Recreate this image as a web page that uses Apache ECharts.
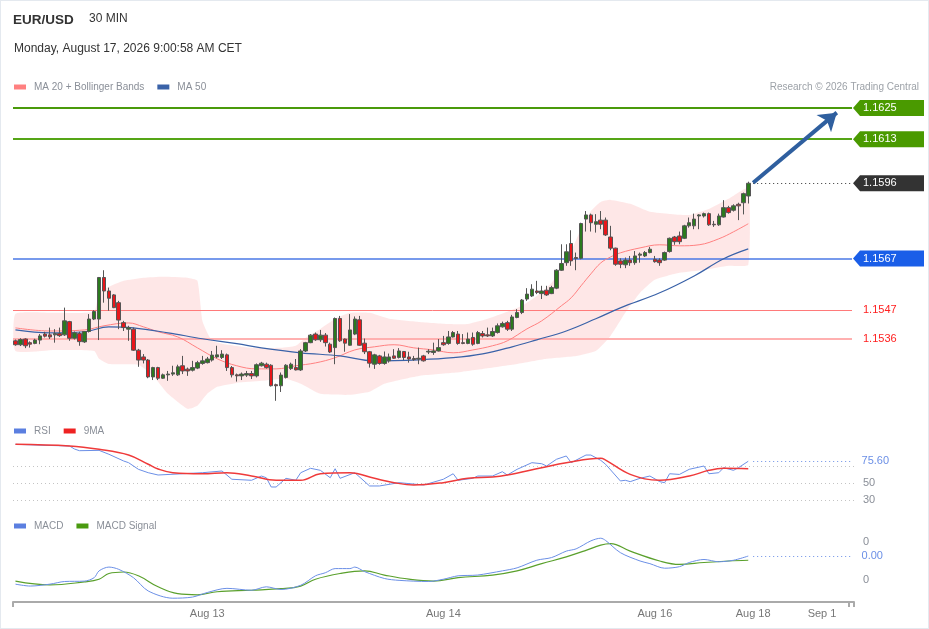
<!DOCTYPE html>
<html><head><meta charset="utf-8">
<script src="https://cdn.jsdelivr.net/npm/echarts@6/dist/echarts.min.js"></script>
<style>html,body{margin:0;padding:0;background:#fff}#c{width:929px;height:629px;box-sizing:border-box;border:1px solid #e4e9ef}</style>
</head><body><div id="c"></div>
<script>
// ---- data ----
const SLOTS = 171;
const dateTicks = [[39,'Aug 13'],[87,'Aug 14'],[130,'Aug 16'],[150,'Aug 18'],[164,'Sep 1']];
const categories = Array.from({length: SLOTS}, () => '');
dateTicks.forEach(t => { categories[t[0]] = t[1]; });

// [open, close, low, high]
const candles = [
[1.15353,1.15338,1.15334,1.15358],[1.15338,1.15358,1.15333,1.15363],[1.15360,1.15334,1.15325,1.15363],[1.15346,1.15340,1.15327,1.15351],
[1.15343,1.15356,1.15340,1.15361],[1.15356,1.15372,1.15340,1.15379],[1.15379,1.15371,1.15366,1.15388],[1.15376,1.15368,1.15360,1.15404],
[1.15376,1.15381,1.15346,1.15398],[1.15381,1.15373,1.15368,1.15404],[1.15376,1.15430,1.15372,1.15481],[1.15427,1.15363,1.15353,1.15430],
[1.15363,1.15384,1.15358,1.15389],[1.15381,1.15350,1.15334,1.15388],[1.15349,1.15389,1.15345,1.15391],[1.15389,1.15437,1.15385,1.15456],
[1.15437,1.15466,1.15433,1.15471],[1.15437,1.15597,1.15356,1.15599],[1.15597,1.15545,1.15500,1.15625],[1.15545,1.15517,1.15469,1.15558],
[1.15530,1.15481,1.15479,1.15533],[1.15500,1.15433,1.15398,1.15507],[1.15423,1.15404,1.15391,1.15430],[1.15398,1.15404,1.15353,1.15411],
[1.15398,1.15317,1.15314,1.15404],[1.15317,1.15279,1.15253,1.15322],[1.15291,1.15279,1.15266,1.15302],[1.15279,1.15214,1.15209,1.15283],
[1.15214,1.15250,1.15202,1.15253],[1.15250,1.15209,1.15202,1.15253],[1.15209,1.15222,1.15206,1.15227],[1.15222,1.15225,1.15199,1.15237],
[1.15225,1.15230,1.15218,1.15257],[1.15222,1.15253,1.15218,1.15261],[1.15257,1.15237,1.15225,1.15295],[1.15244,1.15237,1.15218,1.15250],
[1.15240,1.15250,1.15235,1.15276],[1.15248,1.15269,1.15244,1.15276],[1.15266,1.15276,1.15261,1.15295],[1.15269,1.15283,1.15266,1.15291],
[1.15279,1.15298,1.15273,1.15314],[1.15291,1.15299,1.15286,1.15334],[1.15289,1.15302,1.15283,1.15317],[1.15299,1.15250,1.15237,1.15304],
[1.15250,1.15222,1.15212,1.15256],[1.15222,1.15218,1.15196,1.15227],[1.15218,1.15225,1.15202,1.15231],[1.15221,1.15227,1.15214,1.15237],
[1.15227,1.15218,1.15206,1.15237],[1.15218,1.15261,1.15212,1.15266],[1.15257,1.15267,1.15254,1.15272],[1.15263,1.15250,1.15246,1.15269],
[1.15259,1.15180,1.15177,1.15263],[1.15184,1.15180,1.15122,1.15188],[1.15180,1.15221,1.15156,1.15231],[1.15212,1.15259,1.15208,1.15263],
[1.15246,1.15263,1.15241,1.15269],[1.15250,1.15241,1.15239,1.15283],[1.15241,1.15314,1.15237,1.15321],[1.15314,1.15346,1.15310,1.15349],
[1.15346,1.15375,1.15344,1.15379],[1.15379,1.15357,1.15353,1.15385],[1.15357,1.15375,1.15349,1.15395],[1.15375,1.15346,1.15331,1.15383],
[1.15340,1.15310,1.15306,1.15346],[1.15327,1.15439,1.15263,1.15443],[1.15439,1.15353,1.15349,1.15449],[1.15360,1.15344,1.15311,1.15362],
[1.15336,1.15395,1.15334,1.15456],[1.15379,1.15437,1.15375,1.15447],[1.15434,1.15336,1.15334,1.15449],[1.15344,1.15311,1.15302,1.15362],
[1.15311,1.15267,1.15250,1.15314],[1.15263,1.15299,1.15245,1.15303],[1.15295,1.15266,1.15261,1.15299],[1.15266,1.15291,1.15261,1.15312],
[1.15276,1.15291,1.15269,1.15304],[1.15295,1.15286,1.15283,1.15321],[1.15289,1.15314,1.15285,1.15325],[1.15312,1.15289,1.15279,1.15314],
[1.15291,1.15283,1.15269,1.15311],[1.15285,1.15281,1.15276,1.15295],[1.15283,1.15286,1.15263,1.15327],[1.15295,1.15276,1.15273,1.15299],
[1.15310,1.15313,1.15302,1.15321],[1.15308,1.15314,1.15299,1.15346],[1.15314,1.15327,1.15312,1.15360],[1.15346,1.15338,1.15334,1.15372],
[1.15343,1.15368,1.15338,1.15391],[1.15368,1.15385,1.15366,1.15391],[1.15379,1.15343,1.15338,1.15391],[1.15346,1.15343,1.15340,1.15379],
[1.15343,1.15360,1.15340,1.15385],[1.15366,1.15340,1.15334,1.15385],[1.15343,1.15385,1.15340,1.15391],[1.15381,1.15372,1.15366,1.15391],
[1.15376,1.15372,1.15368,1.15404],[1.15372,1.15389,1.15368,1.15404],[1.15385,1.15411,1.15381,1.15420],[1.15407,1.15420,1.15404,1.15427],
[1.15423,1.15398,1.15391,1.15430],[1.15398,1.15445,1.15391,1.15453],[1.15443,1.15462,1.15440,1.15475],[1.15462,1.15510,1.15456,1.15514],
[1.15514,1.15533,1.15507,1.15556],[1.15526,1.15552,1.15522,1.15571],[1.15545,1.15539,1.15533,1.15584],[1.15535,1.15545,1.15514,1.15565],
[1.15548,1.15530,1.15526,1.15565],[1.15535,1.15558,1.15533,1.15565],[1.15556,1.15625,1.15552,1.15629],[1.15625,1.15651,1.15622,1.15725],
[1.15654,1.15696,1.15642,1.15725],[1.15728,1.15661,1.15642,1.15779],[1.15674,1.15670,1.15625,1.15693],[1.15671,1.15805,1.15667,1.15808],
[1.15822,1.15838,1.15774,1.15853],[1.15838,1.15808,1.15774,1.15843],[1.15802,1.15812,1.15770,1.15841],[1.15818,1.15802,1.15783,1.15853],
[1.15818,1.15761,1.15757,1.15828],[1.15753,1.15710,1.15702,1.15796],[1.15710,1.15648,1.15642,1.15712],[1.15661,1.15648,1.15633,1.15671],
[1.15646,1.15664,1.15633,1.15674],[1.15664,1.15654,1.15642,1.15680],[1.15654,1.15680,1.15646,1.15699],[1.15683,1.15687,1.15654,1.15693],
[1.15680,1.15693,1.15676,1.15699],[1.15693,1.15706,1.15690,1.15715],[1.15667,1.15658,1.15654,1.15680],[1.15664,1.15654,1.15642,1.15671],
[1.15664,1.15693,1.15661,1.15697],[1.15697,1.15748,1.15693,1.15751],[1.15753,1.15735,1.15723,1.15757],[1.15757,1.15735,1.15725,1.15774],
[1.15748,1.15796,1.15745,1.15800],[1.15796,1.15808,1.15789,1.15828],[1.15796,1.15822,1.15783,1.15843],[1.15834,1.15838,1.15783,1.15841],
[1.15834,1.15843,1.15828,1.15847],[1.15843,1.15800,1.15796,1.15847],[1.15802,1.15800,1.15792,1.15815],[1.15800,1.15834,1.15796,1.15843],
[1.15830,1.15866,1.15828,1.15895],[1.15866,1.15847,1.15843,1.15873],[1.15856,1.15873,1.15851,1.15879],[1.15879,1.15873,1.15818,1.15885],
[1.15885,1.15920,1.15840,1.15924],[1.15911,1.15960,1.15882,1.15966]
];

const ma20 = [[0,1.15403],[7,1.15391],[14,1.15395],[18,1.15411],[23,1.15422],[26,1.15407],[29,1.15388],[33,1.15368],[37,1.15326],[41,1.15284],[45,1.15257],[49,1.15245],[53,1.15245],[57,1.15257],[61,1.15268],[65,1.15288],[69,1.15318],[73,1.15330],[77,1.15338],[81,1.15326],[85,1.15318],[89,1.15307],[93,1.15318],[97,1.15334],[100,1.15353],[104,1.15399],[107,1.15430],[111,1.15488],[113,1.15519],[115,1.15565],[117,1.15611],[119,1.15653],[121,1.15676],[123,1.15692],[127,1.15711],[131,1.15723],[135,1.15719],[139,1.15723],[143,1.15746],[146,1.15773],[149,1.15804]];
const ma50 = [[0,1.15395],[7,1.15384],[14,1.15388],[19,1.15407],[24,1.15403],[31,1.15384],[38,1.15361],[45,1.15342],[50,1.15326],[58,1.15307],[66,1.15295],[73,1.15276],[82,1.15280],[89,1.15288],[95,1.15303],[101,1.15330],[106,1.15357],[112,1.15391],[118,1.15438],[123,1.15480],[131,1.15538],[138,1.15603],[144,1.15669],[149,1.15707]];
const bbUpper = [[0,1.15457],[8,1.15461],[16,1.15465],[17,1.15538],[19,1.15561],[22,1.15584],[26,1.15596],[30,1.15600],[35,1.15596],[37,1.15584],[38,1.15430],[39,1.15384],[40,1.15353],[42,1.15342],[48,1.15326],[54,1.15326],[57,1.15334],[59,1.15365],[62,1.15399],[65,1.15438],[68,1.15461],[72,1.15461],[76,1.15438],[82,1.15426],[88,1.15418],[92,1.15418],[96,1.15438],[100,1.15465],[103,1.15488],[106,1.15526],[109,1.15576],[111,1.15630],[113,1.15699],[115,1.15784],[117,1.15853],[119,1.15888],[121,1.15896],[125,1.15881],[129,1.15850],[133,1.15842],[137,1.15838],[141,1.15861],[145,1.15900],[149,1.15942]];
const bbLower = [[0,1.15314],[8,1.15318],[16,1.15314],[17,1.15284],[19,1.15264],[25,1.15261],[28,1.15218],[31,1.15149],[35,1.15091],[37,1.15103],[39,1.15149],[41,1.15176],[45,1.15191],[50,1.15199],[55,1.15207],[58,1.15188],[62,1.15149],[68,1.15145],[72,1.15157],[75,1.15188],[82,1.15218],[89,1.15230],[95,1.15245],[102,1.15264],[108,1.15284],[114,1.15295],[118,1.15314],[121,1.15372],[124,1.15461],[127,1.15538],[130,1.15588],[135,1.15615],[140,1.15626],[145,1.15642],[149,1.15646]];

const rsi = [[0,95.5],[5,94.5],[11,93.5],[12,90],[13,88],[17,88.4],[19,83.8],[22,75.9],[23,73.9],[25,66.1],[27,62.1],[29,59.4],[34,60.9],[38,62.1],[42,64.1],[44,54.4],[48,53.2],[50,58.2],[51,56.2],[52,45.3],[53,45.3],[55,55.5],[57,53.2],[58,62.1],[60,67.3],[62,64.9],[64,56.2],[65,66.8],[66,55.5],[69,62.1],[72,46.5],[74,46.5],[78,50.4],[83,47.6],[87,54.4],[89,60.9],[90,53.2],[93,55.5],[94,58.2],[97,58.2],[99,63.3],[100,59.4],[102,66.1],[105,73.9],[107,72.7],[108,70],[110,77.9],[112,81.8],[113,73.9],[116,82.9],[117,82.9],[119,76.7],[120,72],[123,52.4],[124,53.2],[125,51.6],[127,55.5],[129,58.2],[131,51.6],[132,50.4],[133,60.9],[135,60.1],[137,66.1],[140,70],[141,60.9],[143,62.1],[144,68],[146,64.9],[147,68],[149,75.6]];
const rsiMa = [[0,95.5],[11,93.5],[17,89.6],[23,82.9],[27,72],[29,66.5],[32,62.1],[38,60.9],[43,62.1],[48,58.2],[53,53.2],[58,53.2],[62,60.9],[68,62.1],[73,55.5],[77,50.4],[81,47.6],[87,50.4],[92,55.5],[97,57],[100,59.4],[107,68],[112,73.9],[119,79.1],[120,77],[125,60.2],[131,53.2],[137,58.2],[141,64.9],[144,67.3],[149,66.8]];
const rsiLevels = [30, 50, 70];
const rsiTicks = [30, 50];

const macd = [[0,-0.00061],[3,-0.00066],[7,-0.00061],[10,-0.00054],[14,-0.00053],[16,-0.00044],[17,-0.00026],[19,-0.00016],[21,-0.00022],[24,-0.00044],[27,-0.00079],[32,-0.00098],[36,-0.00095],[39,-0.00083],[43,-0.00072],[48,-0.00077],[51,-0.00068],[54,-0.00075],[58,-0.00064],[61,-0.00039],[63,-0.00031],[65,-0.00020],[68,-0.00020],[69,-0.00016],[71,-0.00028],[75,-0.00046],[78,-0.00051],[84,-0.00054],[87,-0.00048],[90,-0.00039],[92,-0.00038],[94,-0.00037],[99,-0.00026],[102,-0.00018],[106,0.00002],[109,0.00009],[112,0.00026],[114,0.00032],[117,0.00053],[119,0.00060],[120,0.00054],[123,0.00022],[127,0.00000],[129,-0.00007],[132,-0.00019],[135,-0.00015],[137,-0.00004],[140,0.00004],[143,-0.00002],[146,0.00002],[149,0.00013]];
const macdSignal = [[0,-0.00053],[7,-0.00063],[14,-0.00055],[17,-0.00048],[19,-0.00033],[22,-0.00029],[25,-0.00039],[29,-0.00068],[33,-0.00086],[37,-0.00089],[41,-0.00081],[48,-0.00077],[54,-0.00073],[58,-0.00066],[61,-0.00048],[66,-0.00033],[71,-0.00026],[75,-0.00037],[80,-0.00048],[85,-0.00053],[90,-0.00044],[97,-0.00037],[102,-0.00026],[107,-0.00007],[112,0.00011],[116,0.00028],[119,0.00042],[121,0.00046],[125,0.00026],[131,0.00000],[135,-0.00009],[140,-0.00004],[145,0.00000],[149,0.00002]];
const macdTicks = [0.0005, -0.0005];

const priceLevels = [1.1625, 1.1613, 1.1596, 1.1567, 1.1547, 1.1536];
const lastIndex = 150;
const forecastArrow = [[150, 1.15962], [167, 1.16232]];
const rsiLast = 75.60;
const macdLast = 0.00013;

// ---- styles ----
const tagStyles = [
  {box:'#4a9a00', line:'#4a9a0a', w:2},
  {box:'#4a9a00', line:'#55a516', w:2},
  {box:'#333333', line:'#333333', w:1, dotted:true},
  {box:'#1a5ee8', line:'#4a78e6', w:1.3},
  {box:null, text:'#ff2020', line:'#ff7a7a', w:1},
  {box:null, text:'#ff2020', line:'#ffb0b0', w:2}
];
const FONT = '"Liberation Sans", Arial, sans-serif';
const chart = echarts.init(document.getElementById('c'));
const gridL = 12, gridR = 74;

function catAxis(idx, show) {
  return {
    type: 'category', gridIndex: idx, data: categories, boundaryGap: true,
    axisLine: {show: show, onZero: false, lineStyle: {color: '#aaaaaa', width: 2}},
    axisTick: {show: show, length: 5, lineStyle: {color: '#aaaaaa', width: 2}, interval: (i) => i === 0 || i === SLOTS - 1},
    axisLabel: {show: show, color: '#777', fontSize: 11, margin: 6, fontFamily: FONT, interval: (i, v) => v !== ''},
    splitLine: {show: false}
  };
}
const legendBase = {padding: 0, itemGap: 13, itemWidth: 12, itemHeight: 5, icon: 'rect', selectedMode: false,
  textStyle: {color: '#8a8f98', fontSize: 10, padding: [0, 0, 0, 3]}};

chart.setOption({
  animation: false,
  textStyle: {fontFamily: FONT},
  title: [
    {text: 'EUR/USD', left: 12, top: 12, padding: 0, textStyle: {fontSize: 13.5, fontWeight: 'bold', color: '#333', fontFamily: FONT}},
    {text: '30 MIN', left: 88, top: 12, padding: 0, textStyle: {fontSize: 12, fontWeight: 'normal', color: '#333', fontFamily: FONT}},
    {text: 'Monday, August 17, 2026 9:00:58 AM CET', left: 13, top: 42, padding: 0, textStyle: {fontSize: 12, fontWeight: 'normal', color: '#333', fontFamily: FONT}},
    {text: 'Research © 2026 Trading Central', right: 9, top: 81, padding: 0, textStyle: {fontSize: 10, fontWeight: 'normal', color: '#9da2a8', fontFamily: FONT}}
  ],
  legend: [
    Object.assign({data: ['MA 20 + Bollinger Bands', 'MA 50'], left: 13, top: 81}, legendBase),
    Object.assign({data: ['RSI', '9MA'], left: 13, top: 425}, legendBase),
    Object.assign({data: ['MACD', 'MACD Signal'], left: 13, top: 520}, legendBase)
  ],
  grid: [
    {left: gridL, right: gridR, top: 94, height: 324.5},
    {left: gridL, right: gridR, top: 439.5, height: 68},
    {left: gridL, right: gridR, top: 530, height: 71}
  ],
  xAxis: [catAxis(0, false), catAxis(1, false), catAxis(2, true)],
  yAxis: [
    {type: 'value', gridIndex: 0, min: 1.1505, max: 1.1630, show: false, splitLine: {show: false}},
    {type: 'value', gridIndex: 1, min: 20, max: 100, position: 'right', axisLine: {show: false}, axisTick: {show: false}, splitLine: {show: false},
      axisLabel: {customValues: rsiTicks, color: '#8a8f98', fontSize: 11, margin: 9}},
    {type: 'value', gridIndex: 2, min: -0.00108, max: 0.00079, position: 'right', axisLine: {show: false}, axisTick: {show: false}, splitLine: {show: false},
      axisLabel: {customValues: macdTicks, color: '#8a8f98', fontSize: 11, margin: 9, formatter: (v) => String(Math.round(v))}}
  ],
  series: [
    {
      type: 'custom', name: 'band', xAxisIndex: 0, yAxisIndex: 0, z: 1, silent: true,
      data: [[0, bbUpper[0][1]]],
      renderItem: function (params, api) {
        const pts = bbUpper.map(p => api.coord(p)).concat(bbLower.slice().reverse().map(p => api.coord(p)));
        return {type: 'polygon', shape: {points: pts, smooth: 0.15}, style: {fill: 'rgba(252,110,110,0.17)'}};
      }
    },
    {
      type: 'custom', name: 'levels', xAxisIndex: 0, yAxisIndex: 0, z: 2, silent: true, clip: false,
      data: priceLevels.map(v => [0, v]),
      encode: {x: 0, y: 1},
      renderItem: function (params, api) {
        const st = tagStyles[params.dataIndex];
        const v = api.value(1);
        const y = Math.round(api.coord([0, v])[1]) + (st.w === 1 ? 0.5 : 0);
        const x0 = params.coordSys.x + params.coordSys.width;
        const xs = st.dotted ? api.coord([lastIndex, v])[0] : params.coordSys.x;
        return {type: 'line', shape: {x1: xs, y1: y, x2: x0 - 2, y2: y},
          style: {stroke: st.line, lineWidth: st.w, lineDash: st.dotted ? [1, 3] : null}};
      }
    },
    {name: 'MA 20 + Bollinger Bands', type: 'line', xAxisIndex: 0, yAxisIndex: 0, data: ma20, smooth: 0.4, showSymbol: false, z: 3,
      lineStyle: {color: '#ff8080', width: 1}, itemStyle: {color: '#ff8080'}},
    {name: 'MA 50', type: 'line', xAxisIndex: 0, yAxisIndex: 0, data: ma50, smooth: 0.4, showSymbol: false, z: 3,
      lineStyle: {color: '#3a62a8', width: 1.2}, itemStyle: {color: '#3a62a8'}},
    {
      name: 'EURUSD', type: 'candlestick', xAxisIndex: 0, yAxisIndex: 0, data: candles, barWidth: 4, z: 5,
      itemStyle: {color: '#2b7a1e', color0: '#e8161b', borderColor: '#555', borderColor0: '#555', borderWidth: 1}
    },
    {
      type: 'lines', coordinateSystem: 'cartesian2d', xAxisIndex: 0, yAxisIndex: 0, z: 6, silent: true,
      symbol: ['none', 'arrow'], symbolSize: [4, 17],
      lineStyle: {color: '#2f5f9f', width: 4, opacity: 1},
      data: [{coords: forecastArrow}]
    },
    {
      type: 'custom', name: 'tags', xAxisIndex: 0, yAxisIndex: 0, z: 7, silent: true, clip: false,
      data: priceLevels.map(v => [0, v]),
      encode: {x: 0, y: 1},
      renderItem: function (params, api) {
        const st = tagStyles[params.dataIndex];
        const y = api.coord([0, api.value(1)])[1];
        const x0 = params.coordSys.x + params.coordSys.width;
        const label = api.value(1).toFixed(4);
        const children = [];
        if (st.box) {
          children.push({type: 'polygon', shape: {points: [[x0 - 1, y], [x0 + 6, y - 8], [x0 + 70, y - 8], [x0 + 70, y + 8], [x0 + 6, y + 8]]}, style: {fill: st.box}});
          children.push({type: 'text', style: {text: label, x: x0 + 9, y: y, verticalAlign: 'middle', fill: '#fff', fontSize: 11, fontFamily: FONT}});
        } else {
          children.push({type: 'text', style: {text: label, x: x0 + 9, y: y, verticalAlign: 'middle', fill: st.text, fontSize: 11, fontFamily: FONT}});
        }
        return {type: 'group', children: children};
      }
    },
    {name: 'RSI', type: 'line', xAxisIndex: 1, yAxisIndex: 1, data: rsi, showSymbol: false, z: 3,
      lineStyle: {color: '#6b8fe6', width: 1}, itemStyle: {color: '#5b7fe0'},
      markLine: {silent: true, symbol: 'none', z: 1,
        data: rsiLevels.map(v => ({yAxis: v, lineStyle: {color: '#c4c4c4', width: 1, type: [1, 3]}, label: {show: false}})).concat([
          [{coord: [150, rsiLast], lineStyle: {color: '#6b8fe6', width: 1, type: [1, 3]},
            label: {show: true, position: 'end', distance: 10, formatter: rsiLast.toFixed(2), color: '#6b8fe6', fontSize: 11}}, {coord: [170, rsiLast]}]
        ])}},
    {name: '9MA', type: 'line', xAxisIndex: 1, yAxisIndex: 1, data: rsiMa, smooth: 0.4, showSymbol: false, z: 4,
      lineStyle: {color: '#ef3a3a', width: 1.5}, itemStyle: {color: '#ee2222'}},
    {name: 'MACD', type: 'line', xAxisIndex: 2, yAxisIndex: 2, data: macd, smooth: 0.3, showSymbol: false, z: 4,
      lineStyle: {color: '#6b8fe6', width: 1}, itemStyle: {color: '#5b7fe0'},
      markLine: {silent: true, symbol: 'none',
        data: [[{coord: [150, macdLast], lineStyle: {color: '#6b8fe6', width: 1, type: [1, 3]},
          label: {show: true, position: 'end', distance: 10, formatter: macdLast.toFixed(2), color: '#6b8fe6', fontSize: 11}}, {coord: [170, macdLast]}]]}},
    {name: 'MACD Signal', type: 'line', xAxisIndex: 2, yAxisIndex: 2, data: macdSignal, smooth: 0.4, showSymbol: false, z: 3,
      lineStyle: {color: '#5aa02c', width: 1.2}, itemStyle: {color: '#4a9a10'}}
  ]
});
</script></body></html>
